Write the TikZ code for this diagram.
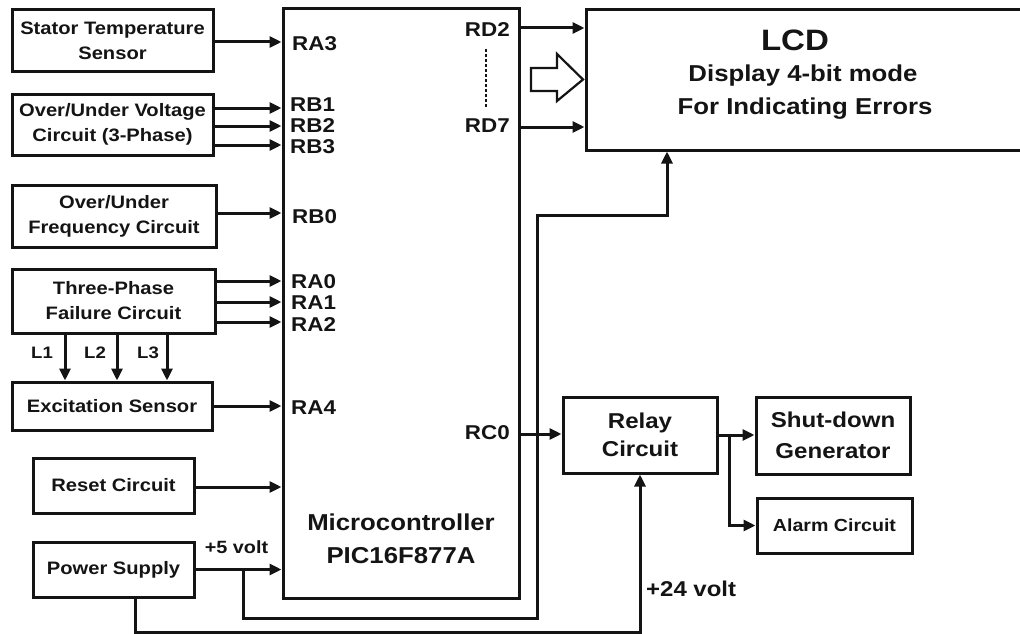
\documentclass[tikz,border=0pt]{standalone}
\usepackage{fontspec}
\setmainfont{Liberation Sans}[FakeStretch=1.12]
\usetikzlibrary{arrows.meta}
\definecolor{ink}{HTML}{141414}
\newcommand\fs[2]{\fontsize{#1}{#2}\selectfont\bfseries}
\begin{document}
\begin{tikzpicture}[x=1pt,y=-1pt,
  box/.style={draw=ink, line width=3pt, fill=white, inner sep=0pt, font=\fs{18}{25}, text=ink, align=center},
  lbl/.style={inner sep=0pt, text=ink, font=\fs{20}{24}},
  arr/.style={draw=ink, line width=3pt, -{Triangle[length=12pt,width=11pt]}},
  wire/.style={draw=ink, line width=3pt}]
\useasboundingbox (0,0) rectangle (1020,634);
\clip (0,0) rectangle (1020,634);
\fill[white] (0,0) rectangle (1020,634);

% blocks
\node[box, minimum width=201pt, minimum height=62pt] (st) at (112.5,41) {Stator Temperature\\Sensor};
\node[box, minimum width=201pt, minimum height=61pt] (ov) at (112.5,124.5) {Over/Under Voltage\\Circuit (3-Phase)};
\node[box, minimum width=204pt, minimum height=62pt] (of) at (114,216) {Over/Under\\Frequency Circuit};
\node[box, minimum width=203pt, minimum height=64pt] (tp) at (113.5,301) {Three-Phase\\Failure Circuit};
\node[box, minimum width=200pt, minimum height=48pt] (ex) at (112,406) {Excitation Sensor};
\node[box, minimum width=161pt, minimum height=55pt] (rs) at (113.5,485.5) {Reset Circuit};
\node[box, minimum width=161pt, minimum height=55pt] (ps) at (113.5,569.5) {Power Supply};
\node[box, minimum width=236pt, minimum height=589pt] (mc) at (401,303.5) {};
\node[box, minimum width=450pt, minimum height=140pt] (lcd) at (811,80) {};
\node[box, minimum width=154pt, minimum height=76pt, font=\fs{21.5}{28}] (rl) at (640,435) {Relay\\Circuit};
\node[box, minimum width=154pt, minimum height=77pt, font=\fs{21.5}{31}] (sd) at (833,435.5) {Shut-down\\Generator};
\node[box, minimum width=155pt, minimum height=55pt, font=\fs{17.5}{22}] (al) at (834.5,525.5) {Alarm Circuit};

% texts inside microcontroller and LCD
\node[lbl, font=\fs{23}{33}, align=center] (mct) at (401,539) {Microcontroller\\PIC16F877A};
\node[lbl, font=\fs{29.5}{34}] (lcd1) at (795,40) {LCD};
\node[lbl, font=\fs{23}{30}] (lcd2) at (803,75.5) {Display 4-bit mode};
\node[lbl, font=\fs{23}{30}] (lcd3) at (805,109) {For Indicating Errors};

% pin labels
\node[lbl, anchor=west] (pa3) at (292,43.5) {RA3};
\node[lbl, anchor=west] (pb1) at (290,104.5) {RB1};
\node[lbl, anchor=west] (pb2) at (290,125.5) {RB2};
\node[lbl, anchor=west] (pb3) at (290,147) {RB3};
\node[lbl, anchor=west] (pb0) at (292,217) {RB0};
\node[lbl, anchor=west] (pa0) at (291,282) {RA0};
\node[lbl, anchor=west] (pa1) at (291,302.5) {RA1};
\node[lbl, anchor=west] (pa2) at (291,324.5) {RA2};
\node[lbl, anchor=west] (pa4) at (291,407.5) {RA4};
\node[lbl, anchor=east] (pd2) at (510,30) {RD2};
\node[lbl, anchor=east] (pd7) at (510,126) {RD7};
\node[lbl, anchor=east] (pc0) at (510,433) {RC0};
\node[lbl, font=\fs{16.6}{20}] (l1) at (42,353) {L1};
\node[lbl, font=\fs{16.6}{20}] (l2) at (95,353) {L2};
\node[lbl, font=\fs{16.6}{20}] (l3) at (148,353) {L3};
\node[lbl, font=\fs{17.7}{20}] (v5) at (236.5,547) {+5 volt};
\node[lbl, font=\fs{21.4}{24}, anchor=west] (v24) at (646,589) {+24 volt};

% inputs to microcontroller
\draw[arr] (st.east |- 0,42) -- (mc.west |- 0,42);
\draw[arr] (ov.east |- 0,108) -- (mc.west |- 0,108);
\draw[arr] (ov.east |- 0,126) -- (mc.west |- 0,126);
\draw[arr] (ov.east |- 0,145) -- (mc.west |- 0,145);
\draw[arr] (of.east |- 0,213) -- (mc.west |- 0,213);
\draw[arr] (tp.east |- 0,281) -- (mc.west |- 0,281);
\draw[arr] (tp.east |- 0,302) -- (mc.west |- 0,302);
\draw[arr] (tp.east |- 0,322) -- (mc.west |- 0,322);
\draw[arr] (ex.east |- 0,406) -- (mc.west |- 0,406);
\draw[arr] (rs.east |- 0,487) -- (mc.west |- 0,487);
\draw[arr] (ps.east) -- (ps.east -| mc.west);

% L1..L3
\draw[arr] (tp.south -| 65,0) -- (ex.north -| 65,0);
\draw[arr] (tp.south -| 117,0) -- (ex.north -| 117,0);
\draw[arr] (tp.south -| 167,0) -- (ex.north -| 167,0);

% outputs to LCD
\draw[arr] (mc.east |- 0,28) -- (lcd.west |- 0,28);
\draw[arr] (mc.east |- 0,127) -- (lcd.west |- 0,127);
\draw[ink, line width=2.8pt, dash pattern=on 3pt off 2pt] (486,49) -- (486,108);
\draw[ink, line width=2.2pt, fill=white, line join=miter]
  (531,68) -- (557,68) -- (557,54) -- (583,79.5) -- (557,101) -- (557,91) -- (531,91) -- cycle;

% power supply branches
\coordinate (j1) at (243,569.5);
\draw[arr] (j1) -- (243,618) -- (537,618) -- (537,215) -- (667,215) -- (lcd.south -| 667,0);
\draw[arr] (ps.south -| 135,0) -- (135,632) -- (640,632) -- (rl.south -| 640,0);

% relay
\draw[arr] (mc.east |- 0,434) -- (rl.west |- 0,434);
\draw[arr] (rl.east |- 0,435) -- (sd.west |- 0,435);
\coordinate (j2) at (729,435);
\draw[arr] (j2) |- (al.west);
\end{tikzpicture}
\end{document}
